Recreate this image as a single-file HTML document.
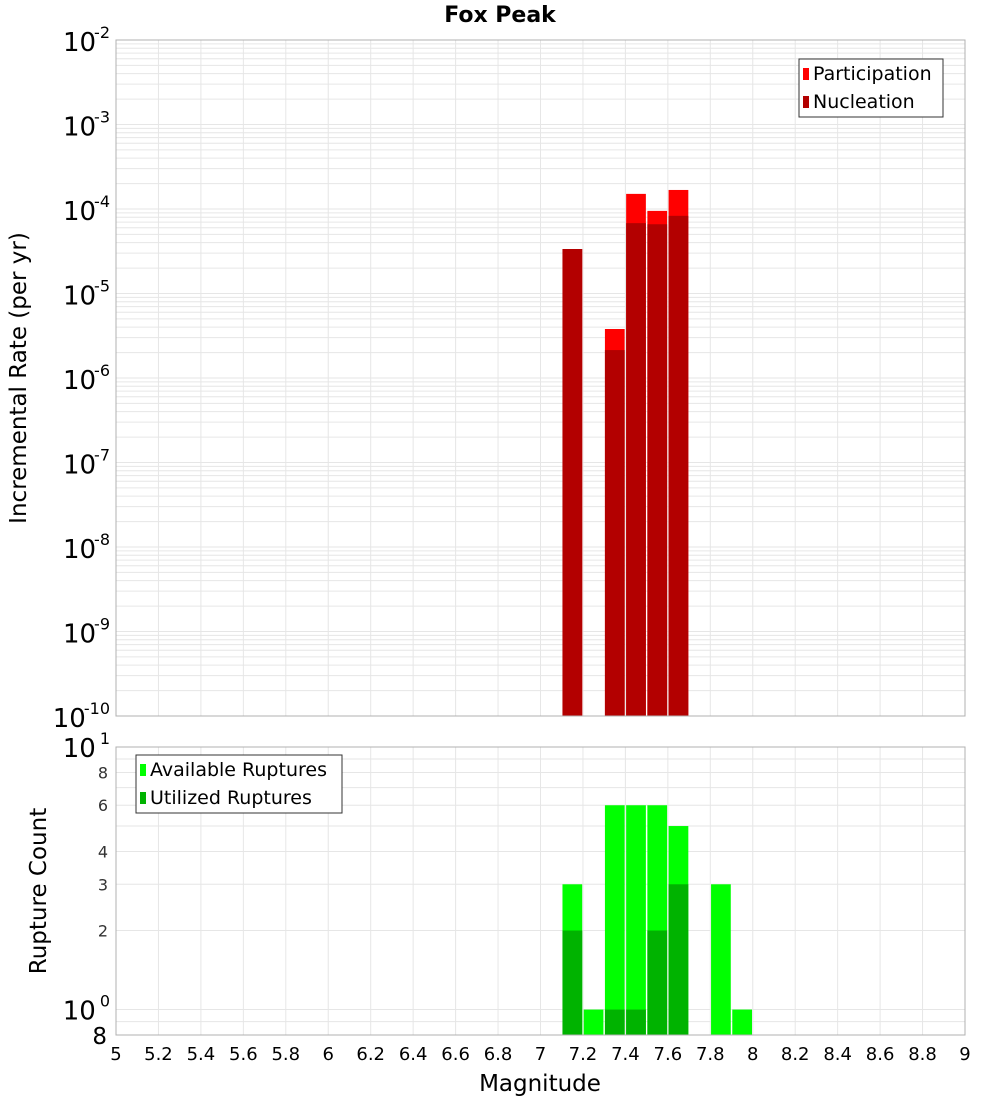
<!DOCTYPE html>
<html><head><meta charset="utf-8"><style>
body{margin:0;background:#fff;}
svg{display:block;font-family:"DejaVu Sans","Liberation Sans",sans-serif;}
</style></head><body>
<svg id="c" width="1000" height="1100" xmlns="http://www.w3.org/2000/svg"></svg>
<script>
const binCenters=[7.15,7.35,7.45,7.55,7.65];
const participation=[3.36e-5,3.8e-6,1.51e-4,9.5e-5,1.68e-4];
const nucleation=[3.36e-5,2.14e-6,6.8e-5,6.6e-5,8.3e-5];
const countBins=[7.15,7.25,7.35,7.45,7.55,7.65,7.85,7.95];
const available=[3,1,6,6,6,5,3,1];
const utilizedBins=[7.15,7.35,7.45,7.55,7.65];
const utilized=[2,1,1,2,3];
const xTicks=[5,5.2,5.4,5.6,5.8,6,6.2,6.4,6.6,6.8,7,7.2,7.4,7.6,7.8,8,8.2,8.4,8.6,8.8,9];
const topExps=[-2,-3,-4,-5,-6,-7,-8,-9,-10];
const botTicks=[8,6,4,3,2];

const S=document.getElementById('c');const NS='http://www.w3.org/2000/svg';
function el(t,a,p){const e=document.createElementNS(NS,t);for(const k in a)e.setAttribute(k,a[k]);(p||S).appendChild(e);return e;}
const L=116,R=965;
const X=v=>L+(v-5)/4*(R-L);
const T0=40,T1=716;
const YT=v=>T0+(-2-Math.log10(v))/8*(T1-T0);
const B0=747,B1=1035;
const YB=v=>B0+(1-Math.log10(v))/(1-Math.log10(0.8))*(B1-B0);

let t=el('text',{x:500,y:22,'text-anchor':'middle','font-size':22,'font-weight':'bold'});t.textContent='Fox Peak';


const gt=el('g',{});
for(let e=-10;e<-2;e++)for(let m=1;m<10;m++){const y=YT(m*Math.pow(10,e));el('line',{x1:L,x2:R,y1:y,y2:y,stroke:'#e6e6e6','stroke-width':1},gt);}
xTicks.forEach(v=>el('line',{x1:X(v),x2:X(v),y1:T0,y2:T1,stroke:'#e6e6e6'},gt));
const gb=el('g',{});
[0.8,0.9,1,2,3,4,5,6,7,8,9,10].forEach(v=>el('line',{x1:L,x2:R,y1:YB(v),y2:YB(v),stroke:'#e6e6e6'},gb));
xTicks.forEach(v=>el('line',{x1:X(v),x2:X(v),y1:B0,y2:B1,stroke:'#e6e6e6'},gb));

const w=(X(5.1)-X(5))-1.5;
binCenters.forEach((c,i)=>{
 let r=el('rect',{x:X(c)-w/2,y:YT(participation[i]),width:w,height:T1-YT(participation[i]),fill:'#ff0000'});
 
 r=el('rect',{x:X(c)-w/2,y:YT(nucleation[i]),width:w,height:T1-YT(nucleation[i]),fill:'#b30000'});
 
});
countBins.forEach((c,i)=>{
 const r=el('rect',{x:X(c)-w/2,y:YB(available[i]),width:w,height:B1-YB(available[i]),fill:'#00ff00'});
 
});
utilizedBins.forEach((c,i)=>{
 const r=el('rect',{x:X(c)-w/2,y:YB(utilized[i]),width:w,height:B1-YB(utilized[i]),fill:'#00b300'});
 
});

el('rect',{x:L,y:T0,width:R-L,height:T1-T0,fill:'none',stroke:'#b0b0b0'});
el('rect',{x:L,y:B0,width:R-L,height:B1-B0,fill:'none',stroke:'#b0b0b0'});

topExps.forEach(e=>{
 const y=YT(Math.pow(10,e));
 const g=el('text',{x:110,y:y+11,'text-anchor':'end','font-size':26});
 
 g.innerHTML='10<tspan dy="-13" font-size="16" dx="-2">'+e+'</tspan>';
});
let g=el('text',{x:110,y:YB(10)+10,'text-anchor':'end','font-size':26});g.innerHTML='10<tspan dy="-13" font-size="16" dx="4">1</tspan>';

g=el('text',{x:110,y:YB(1)+10,'text-anchor':'end','font-size':26});g.innerHTML='10<tspan dy="-13" font-size="16" dx="4">0</tspan>';

g=el('text',{x:107,y:B1+9,'text-anchor':'end','font-size':23});g.textContent='8';

botTicks.forEach(v=>{const q=el('text',{x:108,y:YB(v)+6,'text-anchor':'end','font-size':16,fill:'#333'});q.textContent=v;
 });
xTicks.forEach(v=>{const q=el('text',{x:X(v),y:1060,'text-anchor':'middle','font-size':18});q.textContent=String(v);
 });
g=el('text',{x:540,y:1091,'text-anchor':'middle','font-size':23});g.textContent='Magnitude';

g=el('text',{x:0,y:0,'text-anchor':'middle','font-size':23,transform:'translate(26,378) rotate(-90)'});g.textContent='Incremental Rate (per yr)';

g=el('text',{x:0,y:0,'text-anchor':'middle','font-size':23,transform:'translate(46,891) rotate(-90)'});g.textContent='Rupture Count';


function legend(x,y,wd,items,name){
 const lg=el('g',{});
 el('rect',{x:x,y:y,width:wd,height:58,fill:'#fff',stroke:'#333'},lg);
 items.forEach((it,i)=>{
  el('rect',{x:x+4,y:y+9+i*28,width:6,height:12,fill:it[1]},lg);
  const q=el('text',{x:x+14,y:y+21+i*28,'font-size':19},lg);q.textContent=it[0];
  
 });
}
legend(799,59,144,[['Participation','#ff0000'],['Nucleation','#b30000']],'top-legend');
legend(136,755,206,[['Available Ruptures','#00ff00'],['Utilized Ruptures','#00b300']],'bottom-legend');
</script>
</body></html>
